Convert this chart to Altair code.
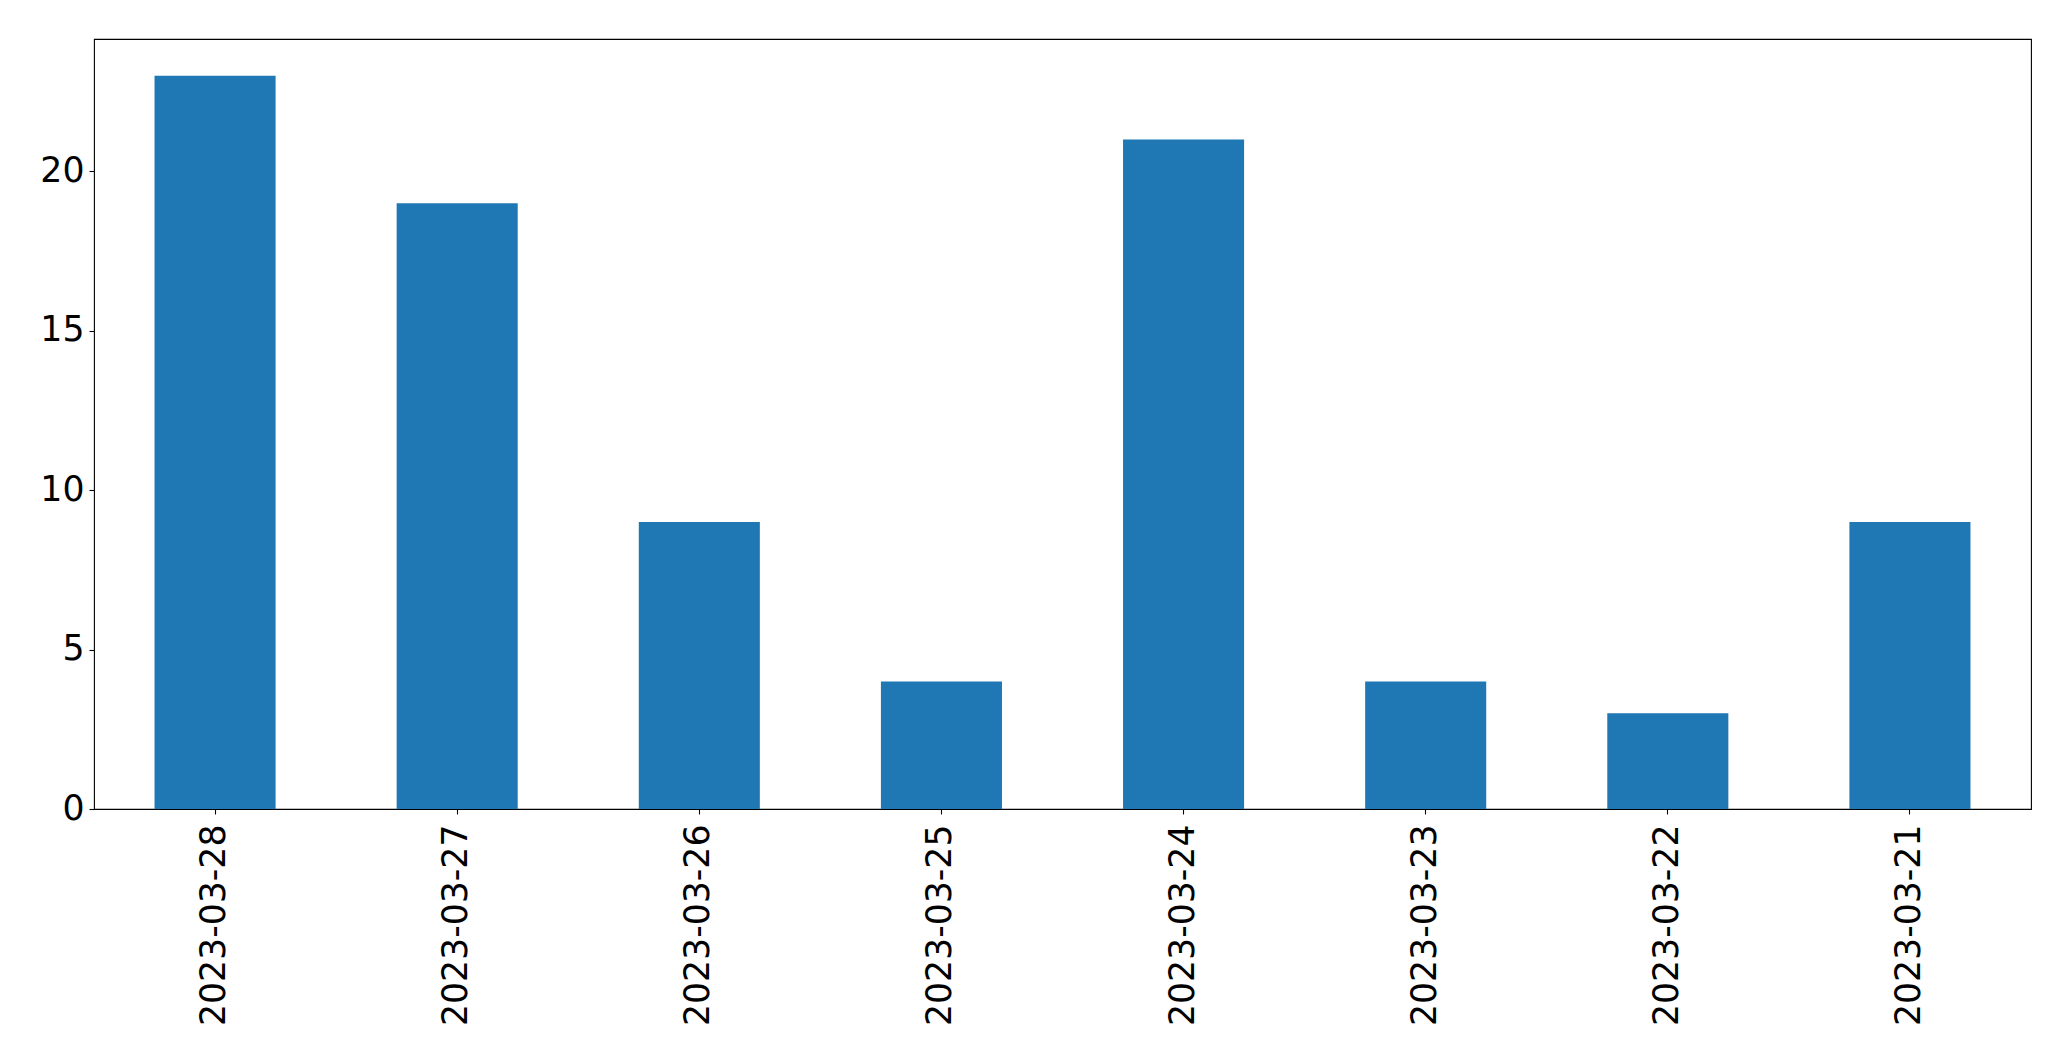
import altair as alt
import pandas as pd

dates = ["2023-03-28", "2023-03-27", "2023-03-26", "2023-03-25",
         "2023-03-24", "2023-03-23", "2023-03-22", "2023-03-21"]
counts = [23, 19, 9, 4, 21, 4, 3, 9]
y_ticks = [0, 5, 10, 15, 20]

df = pd.DataFrame({"date": dates, "count": counts})

FONT = "DejaVu Sans"

chart = alt.Chart(df).mark_bar(color="#1f77b4").encode(
    x=alt.X("date:N", sort=None, title=None,
            scale=alt.Scale(paddingInner=0.5, paddingOuter=0.25),
            axis=alt.Axis(labelAngle=-90, labelAlign="right", labelBaseline="middle",
                          labelFontSize=34.7, labelFont=FONT, labelColor="black",
                          labelLimit=0, labelPadding=10, tickSize=5, tickColor="black",
                          tickWidth=1.1, domain=False, grid=False)),
    y=alt.Y("count:Q", title=None,
            scale=alt.Scale(domain=[0, 24.15], nice=False, zero=True),
            axis=alt.Axis(values=y_ticks, labelFontSize=34.7, labelFont=FONT, labelColor="black",
                          labelPadding=5, tickSize=5, tickColor="black", tickWidth=1.1,
                          domain=False, grid=False)),
).properties(
    width=1937, height=770,
    autosize=alt.AutoSizeParams(type="none"),
    padding={"left": 86, "top": 31, "right": 30, "bottom": 240},
    background="white",
).configure_view(stroke="black", strokeWidth=1.1)

chart.save("out.html", embed_options={"renderer": "svg", "actions": False})
